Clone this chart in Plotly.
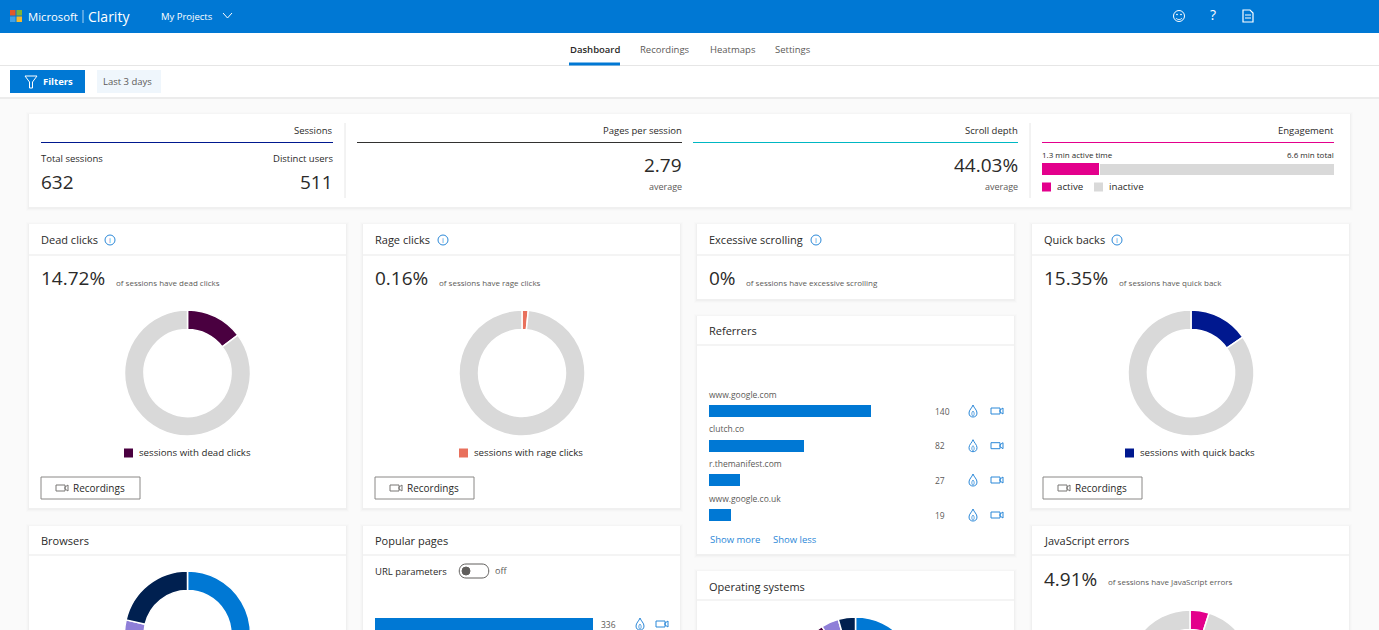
import plotly.graph_objects as go

W = 1379
H = 750  # taller than the window, the page crops the lower pies at 630

FONT = "Open Sans"
INK = "#2b2a29"
GREY = "#5c5a58"
BLUE = "#0078d4"
LINK = "#2b88d8"
RING = "#d9d9d9"

# data
dead_values = [14.72, 85.28]
rage_values = [1.6, 98.4]
quick_values = [15.35, 84.65]
js_values = [4.91, 95.09]
browser_values = [66.0, 12.6, 21.4]
browser_colors = [BLUE, "#8f7fd8", "#002050"]
os_values = [89.6, 1.5, 4.5, 4.4]
os_colors = [BLUE, "#4a0040", "#8f7fd8", "#002050"]

referrer_names = ["www.google.com", "clutch.co", "r.themanifest.com", "www.google.co.uk"]
referrer_counts = [140, 82, 27, 19]
popular_pages = [336]
active_minutes = 1.3
inactive_minutes = 5.3
nav_tabs = ["Dashboard", "Recordings", "Heatmaps", "Settings"]

shapes = []
notes = []


def rect(l, t, r, b, fill, line=None, width=1, opacity=1):
    shapes.append(dict(type="rect", xref="x", yref="y", x0=l, y0=t, x1=r, y1=b, fillcolor=fill,
                       opacity=opacity, layer="below",
                       line=dict(color=line or fill, width=width if line else 0)))


def line(x0, y0, x1, y1, color, width=1):
    shapes.append(dict(type="line", xref="x", yref="y", x0=x0, y0=y0, x1=x1, y1=y1, layer="below",
                       line=dict(color=color, width=width)))


def path(d, color, width=1, fill="rgba(0,0,0,0)"):
    shapes.append(dict(type="path", xref="x", yref="y", path=d, fillcolor=fill, layer="below",
                       line=dict(color=color, width=width)))


def circle(cx, cy, r, color, width=1, fill="rgba(0,0,0,0)"):
    shapes.append(dict(type="circle", xref="x", yref="y", x0=cx - r, y0=cy - r, x1=cx + r, y1=cy + r,
                       fillcolor=fill, layer="below", line=dict(color=color, width=width)))


def txt(x, y, s, size=10, color=INK, anchor="left", yref="y", yshift=0, weight=None):
    # annotations sit about a pixel off from where the browser puts plain text
    if anchor == "left":
        x = x - 1
    elif anchor == "right":
        x = x + 0.5
    if yref == "y":
        y = y - 1
    notes.append(dict(x=x, y=y, xref="x", yref=yref, text=s, showarrow=False, xanchor=anchor,
                      yanchor="middle", yshift=yshift, borderpad=0,
                      font=dict(family=FONT, size=size, color=color, weight=weight)))


def card(l, t, r, b, title=None, head=None, title_y=15.5):
    for grow, alpha in ((3, 0.008), (2, 0.012), (1, 0.02)):
        rect(l - grow, t - grow + 1, r + grow, b + grow + 1, "#000000", opacity=alpha)
    rect(l, t, r, b, "#ffffff")
    if title:
        txt(l + 12, t + title_y, title, 11, INK)
        line(l, head, r, head, "#f0f0f0", 1.5)


def flame(cx, cy):
    path(f"M{cx},{cy-6} C{cx+1},{cy-3} {cx+4},{cy-1} {cx+4},{cy+2} C{cx+4},{cy+5} {cx+2},{cy+6} {cx},{cy+6} "
         f"C{cx-2},{cy+6} {cx-4},{cy+5} {cx-4},{cy+2} C{cx-4},{cy-1} {cx-1},{cy-3} {cx},{cy-6} Z", LINK)
    path(f"M{cx},{cy} C{cx+2},{cy+2} {cx+1},{cy+5} {cx},{cy+5} C{cx-1},{cy+5} {cx-2},{cy+2} {cx},{cy} Z", LINK, 0.8)


def video(cx, cy, color=LINK):
    rect(cx - 6, cy - 3, cx + 3, cy + 3, "#ffffff", color, 1)
    path(f"M{cx+3},{cy-1} L{cx+6},{cy-3} L{cx+6},{cy+3} L{cx+3},{cy+1} Z", color)


def info(cx, cy):
    circle(cx, cy, 5, LINK)
    txt(cx, cy + 1, "i", 7, LINK, "center")


def recordings_button(l):
    rect(l, 477, l + 99, 499, "#ffffff", "#8a8886", 1)
    video(l + 21, 488, "#797775")
    txt(l + 32, 489, "Recordings", 10, INK)


def legend_key(l, y, color, label):
    rect(l, y - 4.5, l + 9, y + 4.5, color)
    txt(l + 15, y, label, 9.7, INK)


# page chrome
rect(0, 0, W, 33, BLUE)
rect(0, 33, W, 97, "#ffffff")
line(0, 65.5, W, 65.5, "#e6e6e6")
rect(0, 97, W, 99, "#ececec")

for (l, t), c in zip([(10, 10), (16.5, 10), (10, 16.5), (16.5, 16.5)],
                     ["#e2592a", "#7eb338", "#3fa0e8", "#f5b92e"]):
    rect(l, t, l + 5.5, t + 5.5, c)
txt(28, 17, "Microsoft", 11.3, "#ffffff")
line(83, 10, 83, 23, "#a9d3f2")
txt(88, 17, "Clarity", 14, "#ffffff")
txt(161, 17, "My Projects", 9.5, "#ffffff")
path("M223,13 L227.5,18 L232,13", "#ffffff")
circle(1179, 16, 5.5, "#ffffff")
circle(1177, 14.5, 0.5, "#ffffff", 0.8, "#ffffff")
circle(1181, 14.5, 0.5, "#ffffff", 0.8, "#ffffff")
path("M1176,18 C1177,20 1181,20 1182,18", "#ffffff", 0.9)
txt(1213, 15.5, "?", 14, "#ffffff", "center")
path("M1243,10 L1250,10 L1253,13 L1253,22 L1243,22 Z M1245,15 L1251,15 M1245,18 L1251,18", "#ffffff", 1.2)

for tab, x in zip(nav_tabs, [570, 640, 710, 775]):
    txt(x, 50, tab, 9.5, INK if tab == "Dashboard" else GREY, weight=600 if tab == "Dashboard" else None)
rect(569, 62.5, 620, 65.5, BLUE)

rect(10, 70, 85, 93, BLUE)
path("M25,76 L37,76 L32.5,82 L32.5,88 L29.5,88 L29.5,82 Z", "#ffffff")
txt(43, 82, "Filters", 9.5, "#ffffff", weight=700)
rect(97, 70, 161, 93, "#eff6fc")
txt(103, 82, "Last 3 days", 9.5, GREY)

# summary strip
card(29, 114, 1350, 207)
line(345, 123, 345, 198, "#e6e6e6")
line(1030, 123, 1030, 198, "#e6e6e6")
for l, r, c, label in [(41, 333, "#00188f", "Sessions"), (357, 682, "#323130", "Pages per session"),
                       (693, 1018, "#00b7c3", "Scroll depth"), (1042, 1334, "#e3008c", "Engagement")]:
    line(l, 142.5, r, 142.5, c, 1.2)
    txt(r, 131, label, 9.5, INK, "right")
txt(41, 159, "Total sessions", 9.5, INK)
txt(333, 159, "Distinct users", 9.5, INK, "right")
txt(41, 183, "632", 19, INK)
txt(333, 183, "511", 19, INK, "right")
txt(682, 166, "2.79", 19, INK, "right")
txt(682, 187, "average", 9, GREY, "right")
txt(1018, 166, "44.03%", 19, INK, "right")
txt(1018, 187, "average", 9, GREY, "right")
txt(1042, 155.5, "1.3 min active time", 8, INK)
txt(1334, 155.5, "6.6 min total", 8, INK, "right")
legend_key(1042, 187, "#e3008c", "active")
legend_key(1094, 187, RING, "inactive")

# metric cards
card(29, 224, 346, 508, "Dead clicks", 255, 16.5)
card(363, 224, 680, 508, "Rage clicks", 255, 16.5)
card(697, 224, 1014, 299, "Excessive scrolling", 255, 16.5)
card(1032, 224, 1349, 508, "Quick backs", 255, 16.5)
card(697, 316, 1014, 554, "Referrers", 345)
card(29, 526, 346, 760, "Browsers", 555)
card(363, 526, 680, 760, "Popular pages", 555)
card(697, 571, 1014, 760, "Operating systems", 600, 16.5)
card(1032, 526, 1349, 760, "JavaScript errors", 555)

info(110, 240)
info(443, 240)
info(816, 240)
info(1117, 240)

txt(41, 279, "14.72%", 19, INK)
txt(116, 283, "of sessions have dead clicks", 8, GREY)
txt(375, 279, "0.16%", 19, INK)
txt(439, 283, "of sessions have rage clicks", 8, GREY)
txt(709, 279, "0%", 19, INK)
txt(746, 283, "of sessions have excessive scrolling", 8, GREY)
txt(1044, 279, "15.35%", 19, INK)
txt(1119, 283, "of sessions have quick back", 8, GREY)
txt(1044, 580, "4.91%", 19, INK)
txt(1108, 582, "of sessions have JavaScript errors", 8, GREY)

legend_key(124, 453, "#4a0040", "sessions with dead clicks")
legend_key(459, 453, "#e8705c", "sessions with rage clicks")
legend_key(1125, 453, "#00188f", "sessions with quick backs")
recordings_button(41)
recordings_button(375)
recordings_button(1043)

# popular pages extras
txt(375, 572, "URL parameters", 9.5, INK)
shapes.append(dict(type="path", xref="x", yref="y", layer="below", fillcolor="#ffffff",
                   line=dict(color="#605e5c", width=1),
                   path="M466,564 L482,564 C491,564 491,578 482,578 L466,578 C457,578 457,564 466,564 Z"))
circle(466, 571, 4, "#605e5c", 1, "#605e5c")
txt(495, 571, "off", 9, GREY)
txt(601, 625, str(popular_pages[0]), 8.5, GREY)
flame(640, 624)
video(662, 624)

txt(710, 540, "Show more", 9.5, LINK)
txt(773, 540, "Show less", 9.5, LINK)


# pies, positioned by pixel box
def donut(cx, cy, values, colors):
    r = 63
    return go.Pie(values=values, sort=False, direction="clockwise", rotation=0, hole=0.69,
                  textinfo="none", hoverinfo="skip", showlegend=False,
                  marker=dict(colors=colors, line=dict(color="#ffffff", width=1.5)),
                  domain=dict(x=[(cx - r) / W, (cx + r) / W], y=[1 - (cy + r) / H, 1 - (cy - r) / H]))


def xdom(l, r):
    return [l / W, r / W]


def ydom(t, b):
    return [1 - b / H, 1 - t / H]


fig = go.Figure()
fig.add_trace(donut(187.5, 373, dead_values, ["#4a0040", RING]))
fig.add_trace(donut(522, 373, rage_values, ["#e8705c", RING]))
fig.add_trace(donut(1191, 373, quick_values, ["#00188f", RING]))
fig.add_trace(donut(187.5, 634, browser_values, browser_colors))
fig.add_trace(donut(855.5, 680, os_values, os_colors))
fig.add_trace(donut(1190, 673, js_values, ["#e3008c", RING]))

# referrers
fig.add_trace(go.Bar(x=referrer_counts, y=referrer_names, orientation="h", width=0.346, xaxis="x2", yaxis="y2",
                     marker=dict(color=BLUE, line=dict(width=0)), hoverinfo="skip", showlegend=False))
for name, count in zip(referrer_names, referrer_counts):
    txt(709, name, name, 8.5, GREY, yref="y2", yshift=17)
    txt(935, name, str(count), 8.5, GREY, yref="y2")
for y in (411, 445.7, 480, 515):
    flame(973, y)
    video(997, y)

# popular pages
fig.add_trace(go.Bar(x=popular_pages, y=["page"], orientation="h", width=1, xaxis="x3", yaxis="y3",
                     marker=dict(color=BLUE, line=dict(width=0)), hoverinfo="skip", showlegend=False))

# engagement bar
fig.add_trace(go.Bar(x=[active_minutes], y=["time"], orientation="h", width=1, xaxis="x4", yaxis="y4",
                     marker=dict(color="#e3008c", line=dict(width=0)), hoverinfo="skip", showlegend=False))
fig.add_trace(go.Bar(x=[inactive_minutes], y=["time"], orientation="h", width=1, xaxis="x4", yaxis="y4",
                     marker=dict(color=RING, line=dict(color="#ffffff", width=1)), hoverinfo="skip", showlegend=False))

hidden = dict(visible=False, fixedrange=True)
fig.update_layout(
    width=W, height=H, margin=dict(l=0, r=0, t=0, b=0), autosize=False,
    paper_bgcolor="#fafafa", plot_bgcolor="rgba(0,0,0,0)", barmode="stack",
    shapes=shapes, annotations=notes,
    xaxis=dict(hidden, range=[0, W], domain=[0, 1]),
    yaxis=dict(hidden, range=[H, 0], domain=[0, 1]),
    xaxis2=dict(hidden, range=[0, 140], domain=xdom(709, 871), anchor="y2"),
    yaxis2=dict(hidden, type="category", categoryorder="array", categoryarray=referrer_names,
                range=[3.5, -0.5], domain=ydom(393.7, 532.4), anchor="x2"),
    xaxis3=dict(hidden, range=[0, 336], domain=xdom(375, 593), anchor="y3"),
    yaxis3=dict(hidden, type="category", range=[-0.5, 0.5], domain=ydom(618, 630), anchor="x3"),
    xaxis4=dict(hidden, range=[0, 6.6], domain=xdom(1042, 1334), anchor="y4"),
    yaxis4=dict(hidden, type="category", range=[-0.5, 0.5], domain=ydom(163, 175), anchor="x4"),
)

fig.write_html(
    "out.html",
    config=dict(displayModeBar=False, staticPlot=True),
    post_script="document.body.style.margin='0';document.documentElement.style.overflow='hidden';",
)
